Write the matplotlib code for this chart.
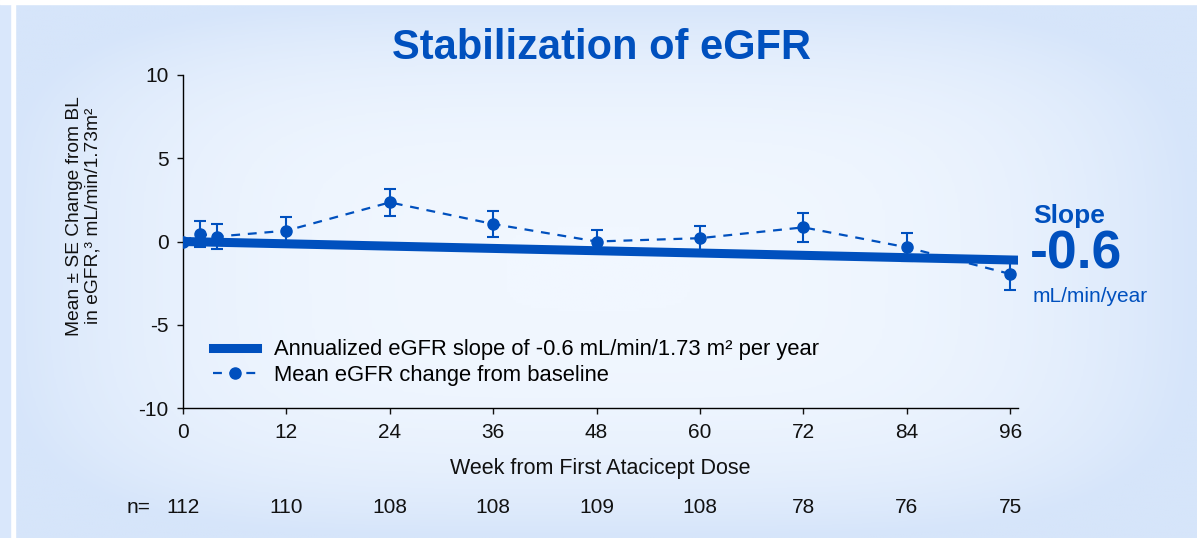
import numpy as np
import matplotlib

matplotlib.use("Agg")
import matplotlib.pyplot as plt
from matplotlib.colors import LinearSegmentedColormap
from matplotlib.lines import Line2D

plt.rcParams["font.family"] = ["Liberation Sans", "DejaVu Sans"]

# Data
weeks = [0, 2, 4, 12, 24, 36, 48, 60, 72, 84, 96]
mean_change = [0.0, 0.45, 0.3, 0.65, 2.35, 1.05, 0.0, 0.2, 0.85, -0.35, -1.95]
se = [0.0, 0.8, 0.75, 0.8, 0.8, 0.8, 0.7, 0.75, 0.85, 0.85, 0.95]

slope_weeks = [0, 97]
slope_values = [0.0, -1.12]

tick_weeks = [0, 12, 24, 36, 48, 60, 72, 84, 96]
n_at_risk = [112, 110, 108, 108, 109, 108, 78, 76, 75]

BLUE = "#0050be"
DASH = (0, (4, 3.5))

fig = plt.figure(figsize=(11.97, 5.38), dpi=100)

# gradient background
bg = fig.add_axes([0, 0, 1, 1], zorder=-10)
gx, gy = np.meshgrid(np.linspace(-1, 1, 400), np.linspace(-1, 1, 200))
t = (gx ** 4 + gy ** 4) ** 0.25
t = np.clip(t, 0, 1) ** 3
cmap = LinearSegmentedColormap.from_list("bg", ["#f1f7ff", "#d6e5fa"])
bg.imshow(t, cmap=cmap, aspect="auto", extent=[0, 1, 0, 1], vmin=0, vmax=1)
bg.axvspan(10 / 1197, 15 / 1197, color="white")
bg.axvspan(0, 10 / 1197, color="#d9e7fb")
bg.axhspan(1 - 4 / 538, 1, color="white")
bg.set_xlim(0, 1)
bg.set_ylim(0, 1)
bg.axis("off")

ax = fig.add_axes([183 / 1197, 1 - 408 / 538, 835 / 1197, 333 / 538])
ax.set_facecolor("none")

ax.plot(slope_weeks, slope_values, color=BLUE, lw=6.5, solid_capstyle="round", zorder=3)
ax.errorbar(weeks, mean_change, yerr=se, color=BLUE, ls=DASH, lw=1.6,
            marker="o", ms=8, capsize=4.5, elinewidth=1.5, capthick=1.5, zorder=4)

ax.set_xlim(0, 96.9)
ax.set_ylim(-10, 10)
ax.set_xticks(tick_weeks)
ax.set_yticks([-10, -5, 0, 5, 10])
ax.set_yticklabels(["-10", "-5", "0", "5", "10"])
for side in ("top", "right"):
    ax.spines[side].set_visible(False)
for side in ("left", "bottom"):
    ax.spines[side].set_linewidth(1.0)
ax.tick_params(labelsize=15, length=4.5, width=1, pad=6, colors="#111111")
ax.set_xlabel("Week from First Atacicept Dose", fontsize=15.5, labelpad=12, color="#111111")

fig.text(0.07, 1 - 216 / 538, "Mean ± SE Change from BL\nin eGFR,³ mL/min/1.73m²",
         rotation=90, ha="center", va="center", fontsize=13.8, color="#111111",
         linespacing=1.05)

# n row
trans = ax.get_xaxis_transform()
ax.text(-3.8, -0.30, "n=", transform=trans, ha="right", va="center", fontsize=15,
        color="#111111", clip_on=False)
for w, n in zip(tick_weeks, n_at_risk):
    ax.text(w, -0.30, str(n), transform=trans, ha="center", va="center",
            fontsize=15, color="#111111", clip_on=False)

handles = [
    Line2D([], [], color=BLUE, lw=6.5),
    Line2D([], [], color=BLUE, lw=1.6, ls=DASH, marker="o", ms=8),
]
labels = ["Annualized eGFR slope of -0.6 mL/min/1.73 m² per year",
          "Mean eGFR change from baseline"]
ax.legend(handles, labels, loc="lower left", bbox_to_anchor=(0.012, 0.008),
          frameon=False, fontsize=15.8, handlelength=2.0, handletextpad=0.8,
          labelspacing=0.2, numpoints=1)

fig.text(602 / 1197, 1 - 48 / 538, "Stabilization of eGFR", ha="center", va="center",
         fontsize=30, fontweight="bold", color=BLUE)

fig.text(1033 / 1197, 1 - 216 / 538, "Slope", ha="left", va="center", fontsize=19,
         fontweight="bold", color=BLUE)
fig.text(1030 / 1197, 1 - 254 / 538, "-0.6", ha="left", va="center", fontsize=38.5,
         fontweight="bold", color=BLUE)
fig.text(1033 / 1197, 1 - 296 / 538, "mL/min/year", ha="left", va="center",
         fontsize=15, color=BLUE)

fig.savefig("out.png", dpi=100)
